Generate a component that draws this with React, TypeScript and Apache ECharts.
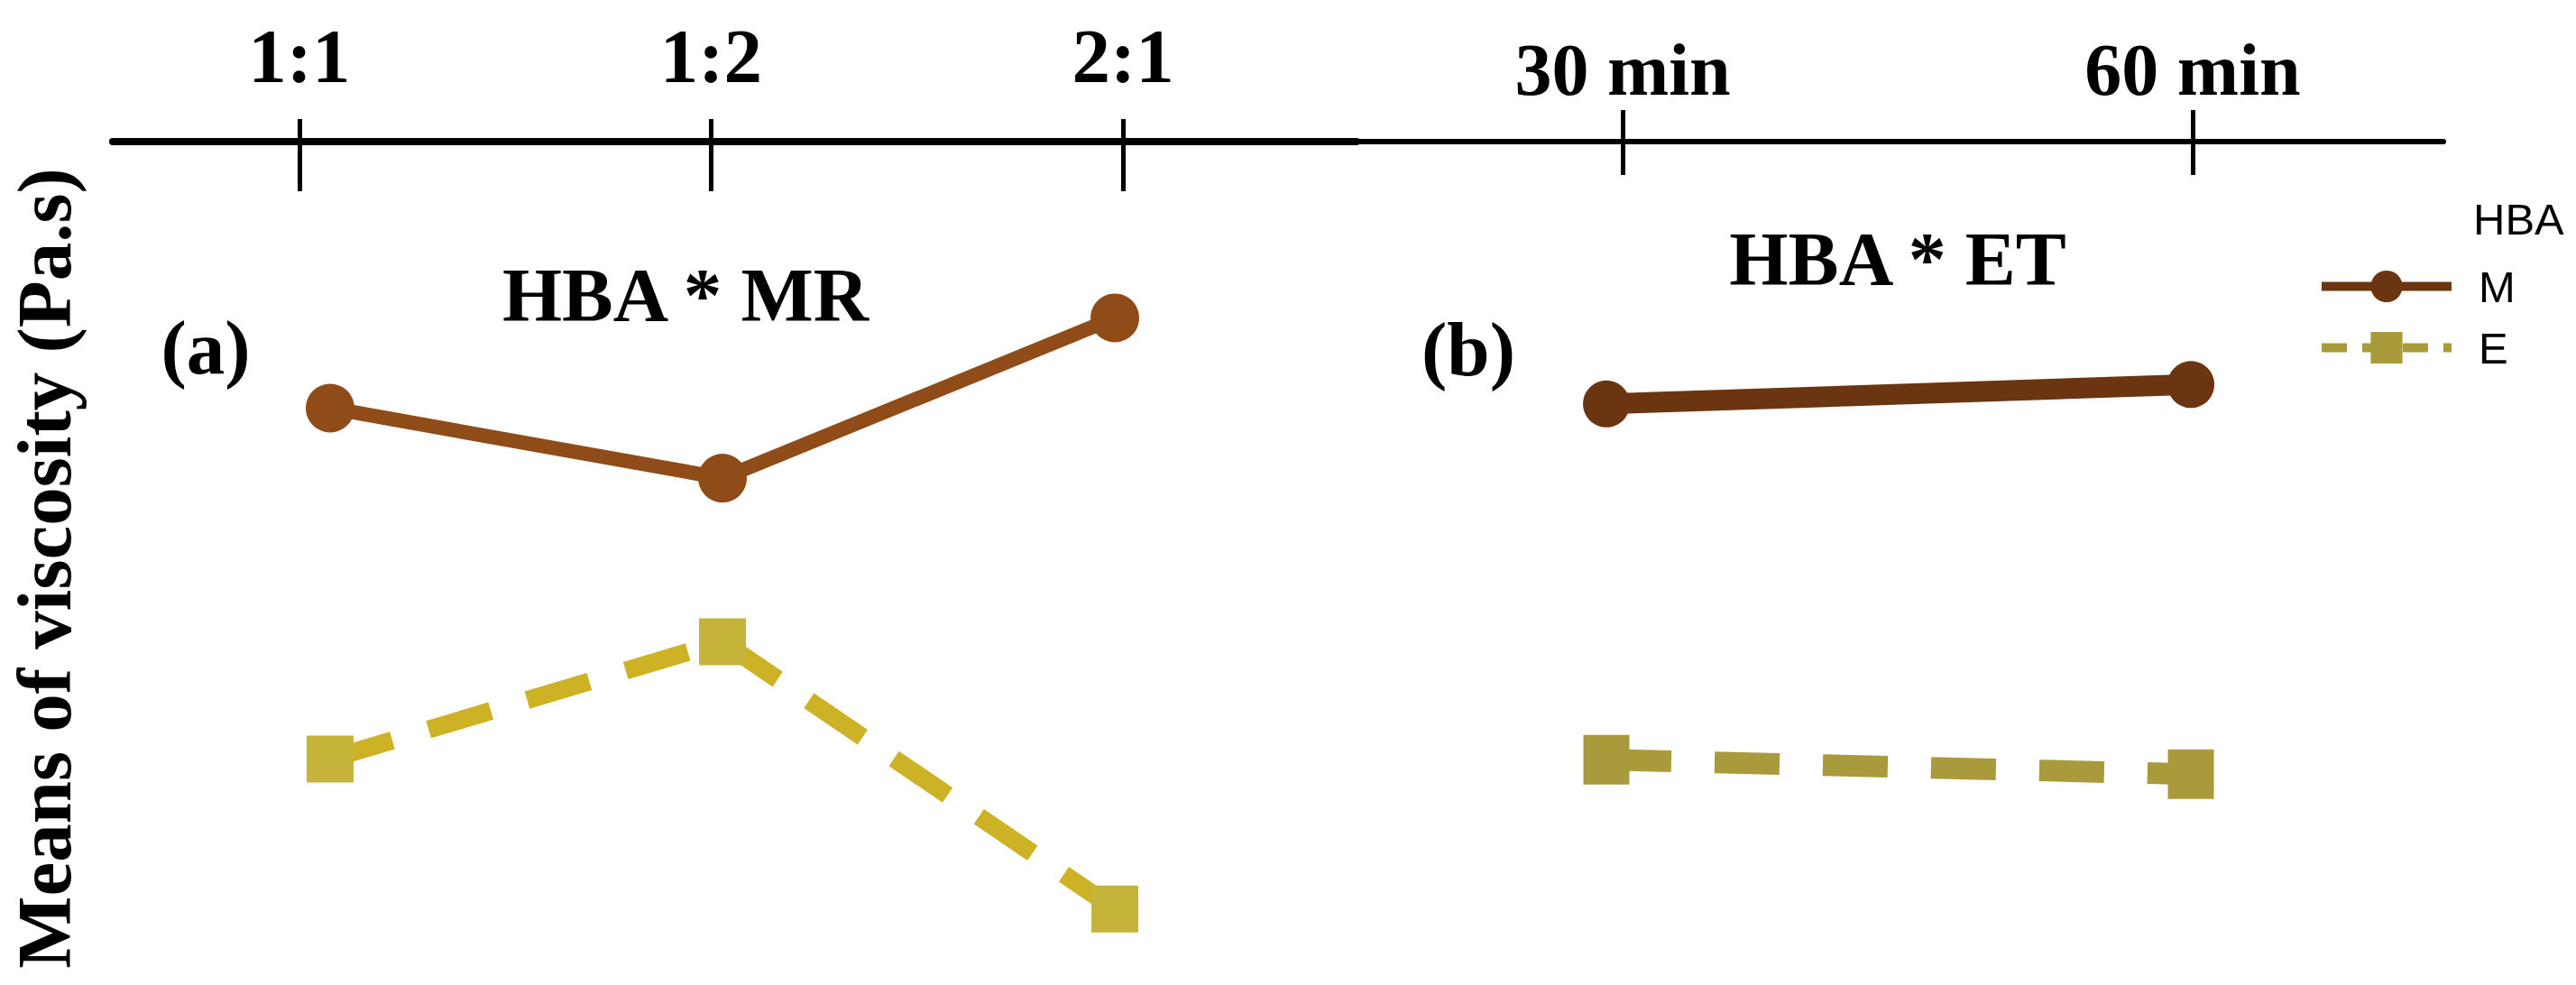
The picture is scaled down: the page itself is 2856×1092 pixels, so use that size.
import React, { useEffect, useRef } from "react";
import * as echarts from "echarts";

// ---- data ----
const MR_LEVELS = ["1:1", "1:2", "2:1"];
const ET_LEVELS = ["30 min", "60 min"];
const GROUPS = ["M", "E"];
const MR_M = [6.84, 6.01, 7.91];
const MR_E = [2.68, 4.07, 0.9];
const ET_M = [6.89, 7.12];
const ET_E = [2.67, 2.5];
const Y_TITLE = "Means of viscosity (Pa.s)";
const PANEL_TITLES = ["HBA * MR", "HBA * ET"];
const PANEL_TAGS = ["(a)", "(b)"];
const LEGEND_TITLE = "HBA";

const SERIF = "'Liberation Serif', 'Times New Roman', serif";
const SANS = "'Liberation Sans', Arial, sans-serif";

const idx = (arr: string[]) => arr.map((_, i) => i);
const pairs = (vals: number[]) => vals.map((v, i) => [i, v]);

function buildOption() {
  const textEl = (
    text: string,
    x: number,
    y: number,
    fontSize: number,
    extra: any = {}
  ) => ({
    type: "text",
    x,
    y,
    silent: true,
    ...extra,
    style: {
      text,
      fontSize,
      fontWeight: "bold",
      fontFamily: SERIF,
      fill: "#000",
      align: "center",
      verticalAlign: "middle",
      textAlign: "center",
      textVerticalAlign: "middle",
      ...(extra.style || {}),
    },
  });

  const tickAxis = (
    grid: number,
    min: number,
    max: number,
    labels: string[],
    lineWidth: number,
    outLen: number,
    fontSize: number,
    margin: number
  ) => ({
    type: "value",
    gridIndex: grid,
    position: "top",
    min,
    max,
    splitLine: { show: false },
    axisLine: {
      show: true,
      onZero: false,
      lineStyle: { color: "#000", width: lineWidth },
    },
    axisTick: {
      show: true,
      customValues: idx(labels),
      length: outLen,
      lineStyle: { color: "#000", width: 5 },
    },
    axisLabel: {
      show: true,
      customValues: idx(labels),
      formatter: (v: number) => labels[Math.round(v)] ?? "",
      margin,
      fontSize,
      fontWeight: "bold",
      fontFamily: SERIF,
      color: "#000",
    },
  });

  const innerTickAxis = (
    grid: number,
    min: number,
    max: number,
    labels: string[],
    inLen: number
  ) => ({
    type: "value",
    gridIndex: grid,
    position: "top",
    min,
    max,
    splitLine: { show: false },
    axisLine: { show: false, onZero: false },
    axisTick: {
      show: true,
      inside: true,
      customValues: idx(labels),
      length: inLen,
      lineStyle: { color: "#000", width: 5 },
    },
    axisLabel: { show: false },
  });

  const dataAxis = (grid: number, min: number, max: number) => ({
    type: "value",
    gridIndex: grid,
    position: "bottom",
    min,
    max,
    show: false,
    axisLine: { onZero: false },
  });

  return {
    animation: false,
    backgroundColor: "#fff",
    grid: [
      { left: 125, top: 157, width: 1379, height: 935, outerBoundsMode: "none" },
      { left: 1504, top: 157, width: 1205, height: 935, outerBoundsMode: "none" },
    ],
    xAxis: [
      tickAxis(0, -0.453, 2.567, MR_LEVELS, 8, 25, 85, 53),
      innerTickAxis(0, -0.453, 2.567, MR_LEVELS, 55),
      dataAxis(0, -0.554, 2.616),
      tickAxis(1, -0.4668, 1.44, ET_LEVELS, 6, 35, 82, 39),
      innerTickAxis(1, -0.4668, 1.44, ET_LEVELS, 37),
      dataAxis(1, -0.4275, 1.432),
    ],
    yAxis: [
      { type: "value", gridIndex: 0, min: 0, max: 10, show: false },
      { type: "value", gridIndex: 1, min: 0, max: 10, show: false },
    ],
    legend: {
      data: [
        { name: GROUPS[0] },
        { name: GROUPS[1], lineStyle: { type: [28, 17] } },
      ],
      orient: "vertical",
      left: 2569,
      top: 293,
      padding: 0,
      itemWidth: 144,
      itemHeight: 44,
      itemGap: 19,
      selectedMode: false,
      lineStyle: { width: 10 },
      textStyle: {
        fontSize: 49,
        fontFamily: SANS,
        color: "#000",
        padding: [0, 0, 0, 25],
      },
    },
    series: [
      {
        name: GROUPS[0],
        type: "line",
        xAxisIndex: 5,
        yAxisIndex: 1,
        data: pairs(ET_M),
        symbol: "circle",
        symbolSize: 52,
        showSymbol: true,
        lineStyle: { color: "#6A3510", width: 23 },
        itemStyle: { color: "#6A3510" },
        z: 3,
      },
      {
        name: GROUPS[1],
        type: "line",
        xAxisIndex: 5,
        yAxisIndex: 1,
        data: pairs(ET_E),
        symbol: "rect",
        symbolSize: [51, 55],
        lineStyle: { color: "#A99B3B", width: 24, type: [72, 48] },
        itemStyle: { color: "#A99B3B" },
        z: 3,
      },
      {
        name: GROUPS[0],
        type: "line",
        xAxisIndex: 2,
        yAxisIndex: 0,
        data: pairs(MR_M),
        symbol: "circle",
        symbolSize: 54,
        lineStyle: { color: "#8F4C18", width: 16 },
        itemStyle: { color: "#8F4C18" },
        z: 3,
      },
      {
        name: GROUPS[1],
        type: "line",
        xAxisIndex: 2,
        yAxisIndex: 0,
        data: pairs(MR_E),
        symbol: "rect",
        symbolSize: 52,
        lineStyle: { color: "#CDB226", width: 20, type: [72, 42] },
        itemStyle: { color: "#C6B43A" },
        z: 3,
      },
    ],
    graphic: [
      textEl(Y_TITLE, 49, 630, 85, { rotation: Math.PI / 2 }),
      textEl(PANEL_TITLES[0], 760, 327, 85),
      textEl(PANEL_TITLES[1], 2104, 287, 84),
      textEl(PANEL_TAGS[0], 228, 385, 85),
      textEl(PANEL_TAGS[1], 1628, 387, 85),
      {
        type: "text",
        x: 2742,
        y: 243,
        silent: true,
        style: {
          text: LEGEND_TITLE,
          fontSize: 49,
          fontFamily: SANS,
          fill: "#000",
          align: "left",
          verticalAlign: "middle",
          textAlign: "left",
          textVerticalAlign: "middle",
        },
      },
    ],
  };
}

export default function App() {
  const ref = useRef<HTMLDivElement>(null);
  useEffect(() => {
    if (!ref.current) return;
    const chart = echarts.init(ref.current, undefined, { renderer: "svg" });
    chart.setOption(buildOption() as any);
    return () => chart.dispose();
  }, []);
  return (
    <div
      ref={ref}
      style={{
        position: "absolute",
        left: 0,
        top: 0,
        width: 2856,
        height: 1092,
        background: "#fff",
      }}
    />
  );
}
